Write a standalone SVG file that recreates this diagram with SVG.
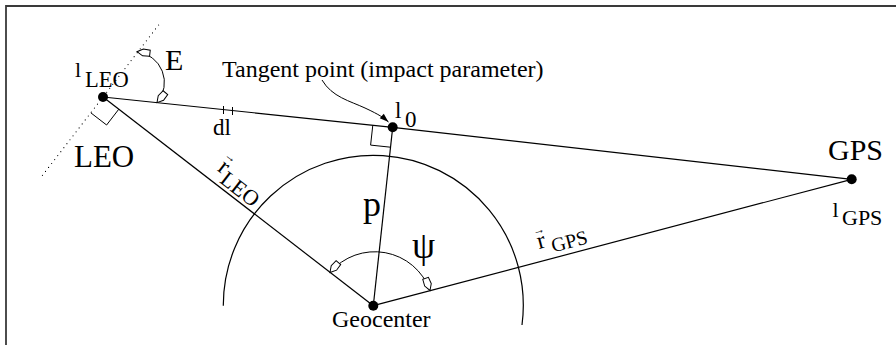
<svg xmlns="http://www.w3.org/2000/svg" width="896" height="345" viewBox="0 0 896 345">
<defs>
<style>
text{font-family:"Liberation Serif","Times New Roman",serif;fill:#000}
.ln{fill:none;stroke:#000;stroke-width:1.2}
.thin{fill:none;stroke:#000;stroke-width:1}
.dot{fill:#000}
</style>
<marker id="open" viewBox="-15 -6 17 12" refX="0" refY="0" markerWidth="17" markerHeight="12" markerUnits="userSpaceOnUse" orient="auto-start-reverse">
<path d="M0,0 L-6,-3.5 L-13,-3 L-13,3 L-6,3.5 Z" fill="#fff" stroke="#000" stroke-width="1"/>
</marker>
<marker id="solid" viewBox="-10 -4 11 8" refX="0" refY="0" markerWidth="11" markerHeight="8" markerUnits="userSpaceOnUse" orient="auto">
<path d="M0,0 L-9,-3 L-9,3 Z" fill="#000"/>
</marker>
</defs>
<rect width="896" height="345" fill="#fff"/>
<path d="M6,345 V6 H896" fill="none" stroke="#3a3a3a" stroke-width="1.8"/>

<g id="connectors">
<line class="ln" x1="103" y1="97" x2="392.7" y2="127.3"/>
<line class="ln" x1="392.7" y1="127.3" x2="851.7" y2="179.3"/>
<line class="ln" x1="103" y1="97" x2="373.3" y2="305.7"/>
<line class="ln" x1="392.7" y1="127.3" x2="373.3" y2="305.7"/>
<line class="ln" x1="373.3" y1="305.7" x2="851.7" y2="179.3"/>
<path class="ln" d="M158.6,25 L40.2,178.3" stroke-width="1.6" stroke-linecap="round" stroke-dasharray="0 5"/>
<path class="ln" d="M223.3,305.7 A150,150 0 1 1 522,325"/>
<path class="thin" d="M137,51.7 A31,31 0 0 1 157,102.6" marker-start="url(#open)" marker-end="url(#open)"/>
<path class="thin" d="M330,272.5 A58.7,58.7 0 0 1 430,290.5" marker-start="url(#open)" marker-end="url(#open)"/>
<path class="thin" d="M90.8,112.8 L106.6,125 L118.8,109.2"/>
<path class="thin" d="M372.8,125.2 L370.6,145.1 L390.5,147.2"/>
<path class="thin" d="M223.5,106 V114 M232.5,107 V115"/>
<path class="thin" d="M322,80 C332,97 350,101 365,108 S384,118 388.5,122" marker-end="url(#solid)"/>
</g>

<g id="LEO">
<circle class="dot" cx="103" cy="97" r="5"/>
<text x="75" y="77" font-size="22">l</text>
<text x="85" y="87" font-size="22.5">LEO</text>
<text x="74" y="166.5" font-size="31">LEO</text>
<text x="165" y="70" font-size="30">E</text>
</g>

<g id="tangent-point">
<circle class="dot" cx="392.7" cy="127.3" r="5"/>
<text x="395" y="118" font-size="23">l</text>
<text x="405" y="127" font-size="23">0</text>
<text x="222" y="77" font-size="24">Tangent point (impact parameter)</text>
<text x="213" y="135" font-size="23">dl</text>
<text x="363" y="216" font-size="36">p</text>
</g>

<g id="GPS">
<circle class="dot" cx="851.7" cy="179.3" r="5"/>
<text x="828" y="160" font-size="30">GPS</text>
<text x="832.5" y="217" font-size="22">l</text>
<text x="842" y="225" font-size="22">GPS</text>
</g>

<g id="geocenter">
<circle class="dot" cx="373.3" cy="305.7" r="5"/>
<text x="332" y="326.7" font-size="24">Geocenter</text>
<text x="412" y="258" font-size="37">ψ</text>
</g>

<g id="r-LEO" transform="translate(216.5,170) rotate(37.7)">
<text x="0" y="0" font-size="24">r</text>
<text x="-2.5" y="-15" font-size="12">→</text>
<text x="9" y="8" font-size="22">LEO</text>
</g>

<g id="r-GPS" transform="translate(539,249) rotate(-14.8)">
<text x="0" y="0" font-size="24">r</text>
<text x="-1.5" y="-14.5" font-size="12">→</text>
<text x="13" y="7" font-size="20">GPS</text>
</g>
</svg>
